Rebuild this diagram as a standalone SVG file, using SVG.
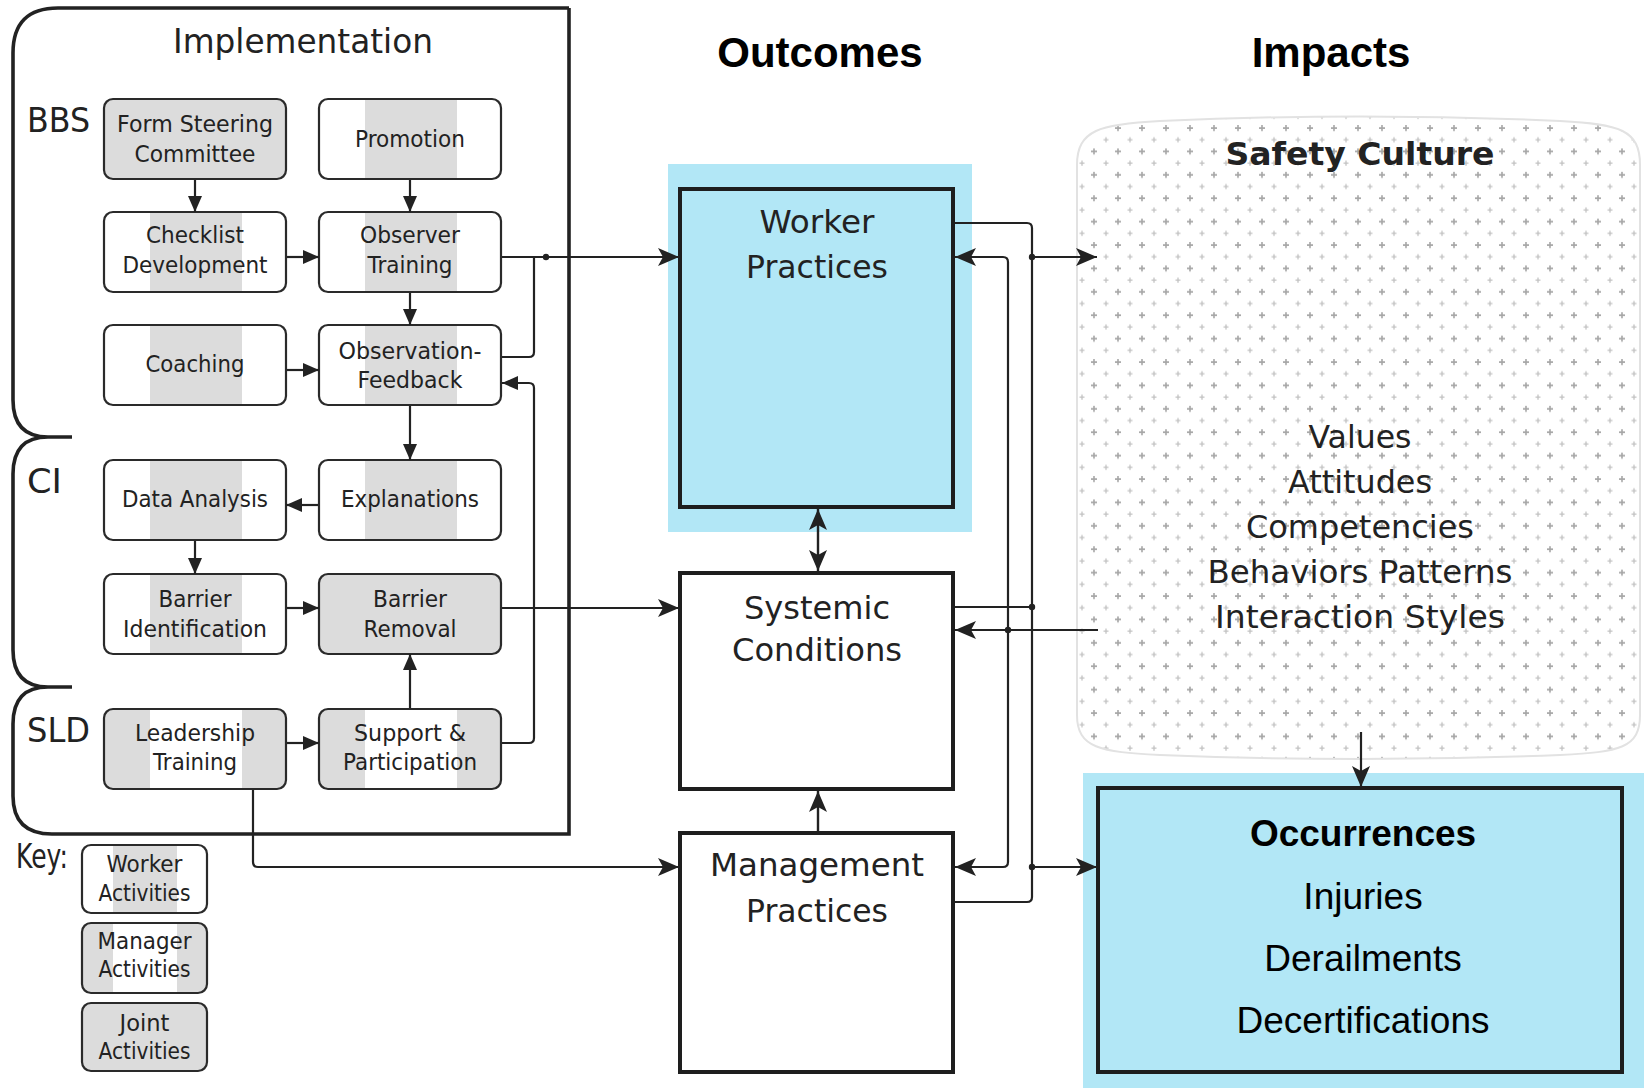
<svg xmlns="http://www.w3.org/2000/svg" width="1644" height="1088" viewBox="0 0 1644 1088">
<style>
.bx{stroke:#2a2a2a;stroke-width:2.2;rx:9px;ry:9px}
.wh{fill:#fff}.gr{fill:#dcdcdc}
.t{font-family:"DejaVu Sans",Verdana,sans-serif;fill:#222;text-anchor:middle;font-size:22.5px}
.tl{font-family:"DejaVu Sans",Verdana,sans-serif;fill:#222;font-size:34px}
.tb{font-family:"DejaVu Sans",Verdana,sans-serif;fill:#222;text-anchor:middle;font-size:32px}
.h{font-family:"Liberation Sans",Arial,sans-serif;font-weight:bold;fill:#000;text-anchor:middle}
.a{font-family:"Liberation Sans",Arial,sans-serif;fill:#000;text-anchor:middle;font-size:37px}
.big{stroke:#1e1e1e;stroke-width:4;fill:#fff}
.ln{fill:none;stroke:#222;stroke-width:2.2}
.lb{fill:none;stroke:#222;stroke-width:2.4}
.blue{fill:#b2e7f6}
</style>
<defs>
<marker id="s" viewBox="0 0 16 16" refX="16" refY="8" markerWidth="16" markerHeight="16" markerUnits="userSpaceOnUse" orient="auto-start-reverse"><path d="M0,1 L16,8 L0,15 z" fill="#222"/></marker>
<marker id="b" viewBox="0 0 21 18" refX="21" refY="9" markerWidth="21" markerHeight="18" markerUnits="userSpaceOnUse" orient="auto-start-reverse"><path d="M0,0 L21,9 L0,18 L5,9 z" fill="#222"/></marker>
<pattern id="dots" patternUnits="userSpaceOnUse" x="1088" y="215.7" width="24" height="23.4">
<path d="M3,6 h6 M6,3 v6" stroke="#a6a6a6" stroke-width="1.6"/>
<path d="M15.5,17.7 h5 M18,15.2 v5" stroke="#c2c2c2" stroke-width="1.3"/>
</pattern>
</defs>
<rect width="1644" height="1088" fill="#fff"/>

<!-- Implementation frame -->
<g id="implementation">
<path d="M569,8 L58,8 Q13,8 13,53 L13,400 Q13,437 48,437 L72,437 M48,437 Q13,437 13,474 L13,650 Q13,687 48,687 L72,687 M48,687 Q13,687 13,724 L13,796 Q13,834 52,834 L569,834 L569,8" fill="none" stroke="#222" stroke-width="3.6"/>
<text class="tl" x="303" y="53" text-anchor="middle" font-size="33" textLength="260" lengthAdjust="spacingAndGlyphs">Implementation</text>
<text class="tl" x="27" y="132" textLength="63" lengthAdjust="spacingAndGlyphs">BBS</text>
<text class="tl" x="27" y="493" textLength="35" lengthAdjust="spacingAndGlyphs">CI</text>
<text class="tl" x="27" y="742" textLength="63" lengthAdjust="spacingAndGlyphs">SLD</text>
</g>

<g id="form-steering-committee">
<rect class="bx gr" x="104" y="99" width="182" height="80"/>
<text class="t" x="195" y="132" textLength="156" lengthAdjust="spacingAndGlyphs">Form Steering</text>
<text class="t" x="195" y="162" textLength="121" lengthAdjust="spacingAndGlyphs">Committee</text>
</g>
<g id="promotion">
<rect class="wh" x="319" y="99" width="182" height="80" rx="9"/><rect class="gr" x="365" y="100" width="92" height="78"/>
<rect class="bx" fill="none" x="319" y="99" width="182" height="80"/>
<text class="t" x="410" y="147" textLength="110" lengthAdjust="spacingAndGlyphs">Promotion</text>
</g>
<g id="checklist-development">
<rect class="wh" x="104" y="212" width="182" height="80" rx="9"/><rect class="gr" x="150" y="213" width="92" height="78"/>
<rect class="bx" fill="none" x="104" y="212" width="182" height="80"/>
<text class="t" x="195" y="243" textLength="98" lengthAdjust="spacingAndGlyphs">Checklist</text>
<text class="t" x="195" y="273" textLength="145" lengthAdjust="spacingAndGlyphs">Development</text>
</g>
<g id="observer-training">
<rect class="wh" x="319" y="212" width="182" height="80" rx="9"/><rect class="gr" x="365" y="213" width="92" height="78"/>
<rect class="bx" fill="none" x="319" y="212" width="182" height="80"/>
<text class="t" x="410" y="243" textLength="100" lengthAdjust="spacingAndGlyphs">Observer</text>
<text class="t" x="410" y="273" textLength="85" lengthAdjust="spacingAndGlyphs">Training</text>
</g>
<g id="coaching">
<rect class="wh" x="104" y="325" width="182" height="80" rx="9"/><rect class="gr" x="150" y="326" width="92" height="78"/>
<rect class="bx" fill="none" x="104" y="325" width="182" height="80"/>
<text class="t" x="195" y="372" textLength="99" lengthAdjust="spacingAndGlyphs">Coaching</text>
</g>
<g id="observation-feedback">
<rect class="wh" x="319" y="325" width="182" height="80" rx="9"/><rect class="gr" x="365" y="326" width="92" height="78"/>
<rect class="bx" fill="none" x="319" y="325" width="182" height="80"/>
<text class="t" x="410" y="359" textLength="143" lengthAdjust="spacingAndGlyphs">Observation-</text>
<text class="t" x="410" y="388" textLength="105" lengthAdjust="spacingAndGlyphs">Feedback</text>
</g>
<g id="data-analysis">
<rect class="wh" x="104" y="460" width="182" height="80" rx="9"/><rect class="gr" x="150" y="461" width="92" height="78"/>
<rect class="bx" fill="none" x="104" y="460" width="182" height="80"/>
<text class="t" x="195" y="507" textLength="146" lengthAdjust="spacingAndGlyphs">Data Analysis</text>
</g>
<g id="explanations">
<rect class="wh" x="319" y="460" width="182" height="80" rx="9"/><rect class="gr" x="365" y="461" width="92" height="78"/>
<rect class="bx" fill="none" x="319" y="460" width="182" height="80"/>
<text class="t" x="410" y="507" textLength="138" lengthAdjust="spacingAndGlyphs">Explanations</text>
</g>
<g id="barrier-identification">
<rect class="wh" x="104" y="574" width="182" height="80" rx="9"/><rect class="gr" x="150" y="575" width="92" height="78"/>
<rect class="bx" fill="none" x="104" y="574" width="182" height="80"/>
<text class="t" x="195" y="607" textLength="73" lengthAdjust="spacingAndGlyphs">Barrier</text>
<text class="t" x="195" y="637" textLength="144" lengthAdjust="spacingAndGlyphs">Identification</text>
</g>
<g id="barrier-removal">
<rect class="bx gr" x="319" y="574" width="182" height="80"/>
<text class="t" x="410" y="607" textLength="74" lengthAdjust="spacingAndGlyphs">Barrier</text>
<text class="t" x="410" y="637" textLength="93" lengthAdjust="spacingAndGlyphs">Removal</text>
</g>
<g id="leadership-training">
<rect class="gr" x="104" y="709" width="182" height="80" rx="9"/><rect class="wh" x="150" y="710" width="92" height="78"/>
<rect class="bx" fill="none" x="104" y="709" width="182" height="80"/>
<text class="t" x="195" y="741" textLength="120" lengthAdjust="spacingAndGlyphs">Leadership</text>
<text class="t" x="195" y="770" textLength="84" lengthAdjust="spacingAndGlyphs">Training</text>
</g>
<g id="support-participation">
<rect class="gr" x="319" y="709" width="182" height="80" rx="9"/><rect class="wh" x="365" y="710" width="92" height="78"/>
<rect class="bx" fill="none" x="319" y="709" width="182" height="80"/>
<text class="t" x="410" y="741" textLength="112" lengthAdjust="spacingAndGlyphs">Support &amp;</text>
<text class="t" x="410" y="770" textLength="134" lengthAdjust="spacingAndGlyphs">Participation</text>
</g>

<!-- Key -->
<g id="key">
<text class="tl" x="16" y="868" font-size="22" textLength="52" lengthAdjust="spacingAndGlyphs">Key:</text>
<rect class="wh" x="82" y="845" width="125" height="68" rx="8"/><rect class="gr" x="113" y="846" width="64" height="66"/>
<rect class="bx" fill="none" x="82" y="845" width="125" height="68" rx="8"/>
<text class="t" x="144.5" y="872" font-size="22" textLength="76" lengthAdjust="spacingAndGlyphs">Worker</text>
<text class="t" x="144.5" y="901" font-size="22" textLength="92" lengthAdjust="spacingAndGlyphs">Activities</text>
<rect class="gr" x="82" y="923" width="125" height="70" rx="8"/><rect class="wh" x="113" y="924" width="64" height="68"/>
<rect class="bx" fill="none" x="82" y="923" width="125" height="70" rx="8"/>
<text class="t" x="144.5" y="949" font-size="22" textLength="94" lengthAdjust="spacingAndGlyphs">Manager</text>
<text class="t" x="144.5" y="977" font-size="22" textLength="92" lengthAdjust="spacingAndGlyphs">Activities</text>
<rect class="bx gr" x="82" y="1003" width="125" height="68" rx="8"/>
<text class="t" x="144.5" y="1031" font-size="22" textLength="50" lengthAdjust="spacingAndGlyphs">Joint</text>
<text class="t" x="144.5" y="1059" font-size="22" textLength="92" lengthAdjust="spacingAndGlyphs">Activities</text>
</g>

<!-- Headers -->
<text class="h" x="820" y="67" font-size="42">Outcomes</text>
<text class="h" x="1331" y="67" font-size="42">Impacts</text>

<!-- Safety culture -->
<g id="safety-culture">
<path d="M1077,165 C1077,130 1100,124 1160,121 Q1360,112 1560,121 C1620,124 1640,130 1640,165 L1640,715 C1640,748 1620,752 1560,755 Q1360,763 1160,755 C1100,752 1077,748 1077,715 Z" fill="url(#dots)" stroke="#e2e2e2" stroke-width="2"/>
<text class="tb" x="1360" y="165" font-weight="bold" font-size="34" textLength="269" lengthAdjust="spacingAndGlyphs">Safety Culture</text>
<text class="tb" x="1360" y="448" textLength="103" lengthAdjust="spacingAndGlyphs">Values</text>
<text class="tb" x="1360" y="493" textLength="144" lengthAdjust="spacingAndGlyphs">Attitudes</text>
<text class="tb" x="1360" y="538" textLength="228" lengthAdjust="spacingAndGlyphs">Competencies</text>
<text class="tb" x="1360" y="583" textLength="305" lengthAdjust="spacingAndGlyphs">Behaviors Patterns</text>
<text class="tb" x="1360" y="628" textLength="290" lengthAdjust="spacingAndGlyphs">Interaction Styles</text>
</g>

<!-- Outcome boxes -->
<g id="worker-practices">
<rect class="blue" x="668" y="164" width="304" height="368"/>
<rect class="big" style="fill:#b2e7f6" x="680" y="189" width="273" height="318"/>
<text class="tb" x="817" y="233" textLength="115" lengthAdjust="spacingAndGlyphs">Worker</text>
<text class="tb" x="817" y="278" textLength="142" lengthAdjust="spacingAndGlyphs">Practices</text>
</g>
<g id="systemic-conditions">
<rect class="big" x="680" y="573" width="273" height="216"/>
<text class="tb" x="817" y="619" textLength="146" lengthAdjust="spacingAndGlyphs">Systemic</text>
<text class="tb" x="817" y="661" textLength="170" lengthAdjust="spacingAndGlyphs">Conditions</text>
</g>
<g id="management-practices">
<rect class="big" x="680" y="833" width="273" height="239"/>
<text class="tb" x="817" y="876" textLength="214" lengthAdjust="spacingAndGlyphs">Management</text>
<text class="tb" x="817" y="922" textLength="142" lengthAdjust="spacingAndGlyphs">Practices</text>
</g>
<g id="occurrences">
<rect class="blue" x="1083" y="773" width="561" height="315"/>
<rect class="big" style="fill:#b2e7f6" x="1098" y="788" width="524" height="284"/>
<text class="h" x="1363" y="846" font-size="37">Occurrences</text>
<text class="a" x="1363" y="909">Injuries</text>
<text class="a" x="1363" y="971">Derailments</text>
<text class="a" x="1363" y="1033">Decertifications</text>
</g>

<!-- Connectors -->
<g id="connectors">
<path class="ln" marker-end="url(#s)" d="M195,180 V212"/>
<path class="ln" marker-end="url(#s)" d="M410,180 V212"/>
<path class="ln" marker-end="url(#s)" d="M287,257 H319"/>
<path class="ln" marker-end="url(#s)" d="M410,293 V325"/>
<path class="ln" marker-end="url(#s)" d="M287,370 H319"/>
<path class="ln" marker-end="url(#s)" d="M410,406 V460"/>
<path class="ln" marker-end="url(#s)" d="M318,505 H286"/>
<path class="ln" marker-end="url(#s)" d="M195,541 V574"/>
<path class="ln" marker-end="url(#s)" d="M287,608 H319"/>
<path class="ln" marker-end="url(#s)" d="M410,708 V654"/>
<path class="ln" marker-end="url(#s)" d="M287,743 H319"/>
<path class="ln" d="M502,357 H529 Q534,357 534,352 V257"/>
<path class="ln" marker-end="url(#s)" d="M502,743 H529 Q534,743 534,738 V388 Q534,383 529,383 H502"/>
<circle cx="546" cy="257" r="3.2" fill="#222"/>
<path class="ln" marker-end="url(#b)" d="M502,257 H679"/>
<path class="ln" marker-end="url(#b)" d="M502,608 H679"/>
<path class="ln" marker-end="url(#b)" d="M253,790 V862 Q253,867 258,867 H679"/>
<path class="lb" marker-start="url(#b)" marker-end="url(#b)" d="M818,509 V571"/>
<path class="lb" marker-end="url(#b)" d="M818,831 V791"/>
<path class="ln" d="M955,223 H1027 Q1032,223 1032,228 V897 Q1032,902 1027,902 H955"/>
<path class="ln" marker-start="url(#b)" marker-end="url(#b)" d="M955,257 H1003 Q1008,257 1008,262 V862 Q1008,867 1003,867 H955"/>
<path class="ln" marker-end="url(#b)" d="M1032,257 H1097"/>
<path class="ln" d="M955,607 H1032"/>
<path class="ln" marker-end="url(#b)" d="M1032,867 H1097"/>
<path class="ln" marker-end="url(#b)" d="M1098,630 H955"/>
<path class="ln" marker-end="url(#b)" d="M1361,732 V787"/>
<circle cx="1032" cy="257" r="3.2" fill="#222"/>
<circle cx="1032" cy="607" r="3.2" fill="#222"/>
<circle cx="1032" cy="867" r="3.2" fill="#222"/>
<circle cx="1008" cy="630" r="3.2" fill="#222"/>
</g>
</svg>
